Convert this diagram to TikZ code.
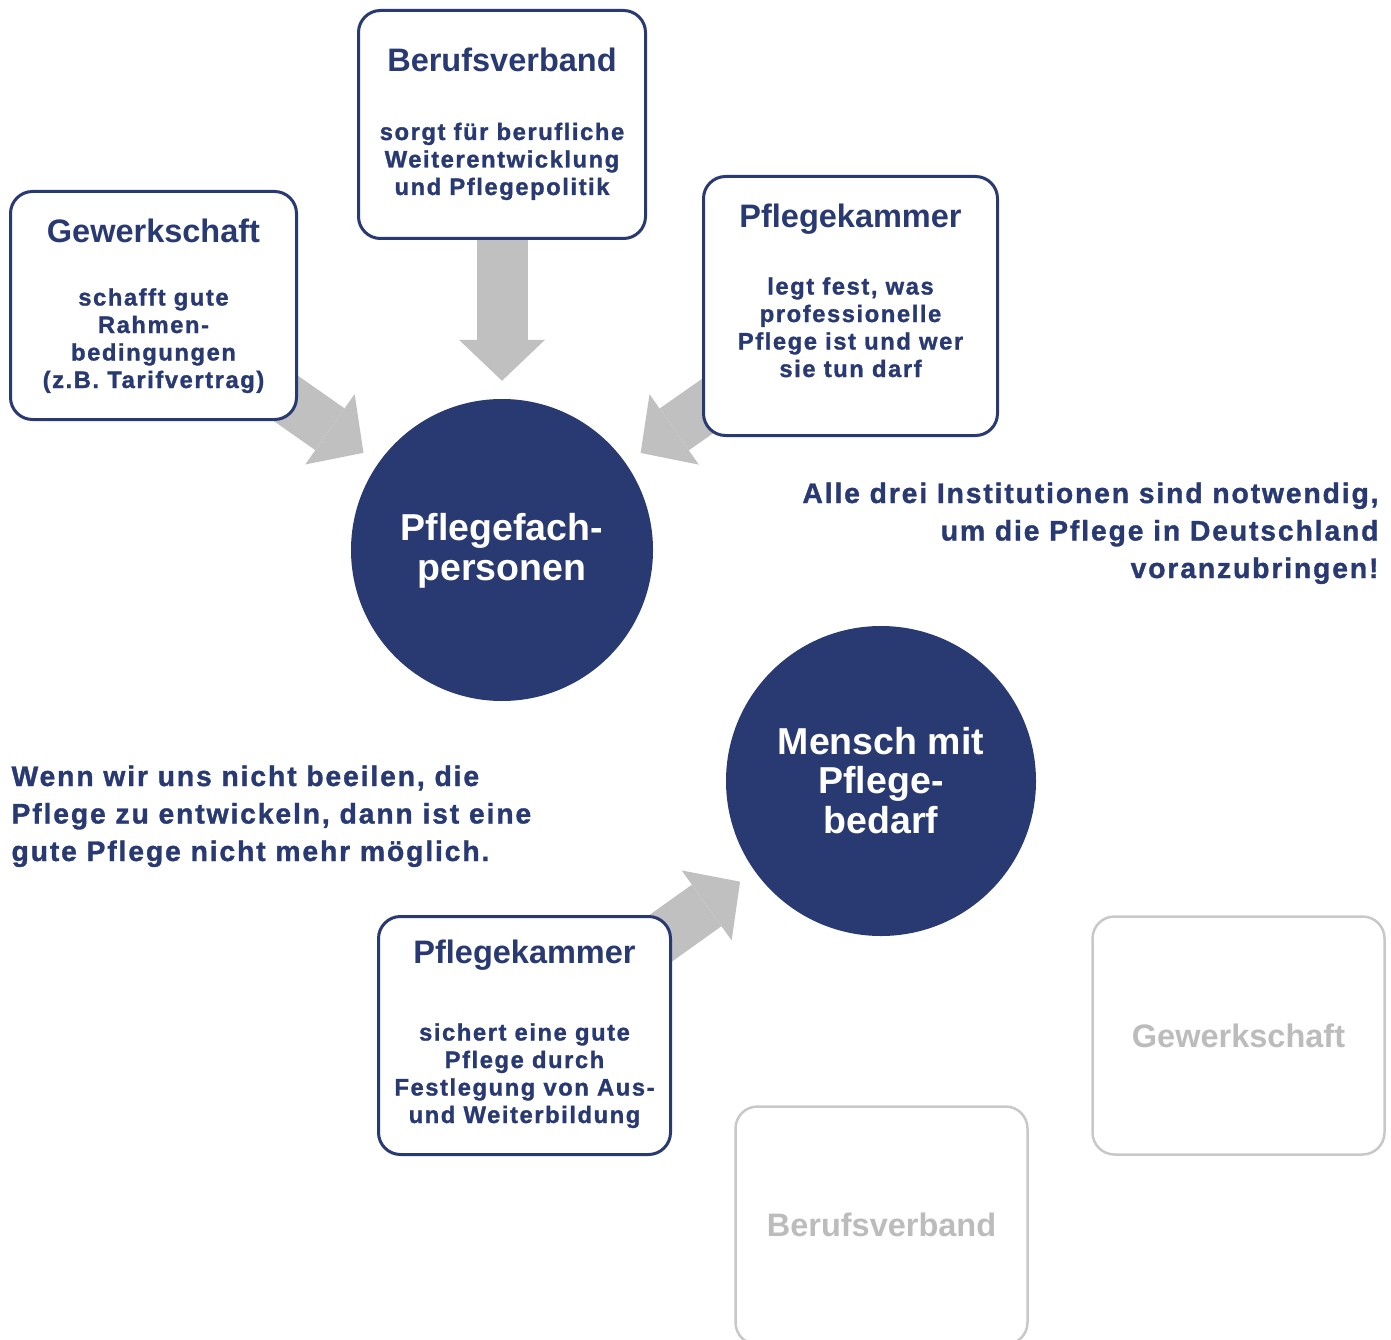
\documentclass[tikz,border=0pt]{standalone}
\usepackage{fontspec}
\setmainfont{Liberation Sans}
\newfontfamily\bodyfont{Liberation Sans}[LetterSpace=6.5,FakeBold=1.2]
\newfontfamily\sidefont{Liberation Sans}[LetterSpace=6.6,FakeBold=1.2]
\usetikzlibrary{arrows.meta,backgrounds}
\definecolor{navy}{RGB}{41,57,114}
\definecolor{arrowgray}{RGB}{192,192,192}
\definecolor{palegray}{RGB}{200,200,200}
\definecolor{paletext}{RGB}{188,188,188}
\tikzset{
  box/.style={draw=navy,line width=3pt,rounded corners=22pt,fill=white,inner sep=0pt,
    minimum width=#1,minimum height=238pt},
  greybox/.style={box=#1,draw=palegray,line width=2.5pt},
  person/.style={circle,fill=navy,inner sep=0pt,minimum size=#1},
  title/.style={anchor=base,text=navy,font=\bfseries\fontsize{32.5}{36}\selectfont},
  greytitle/.style={title,text=paletext},
  body/.style={anchor=base,align=center,text=navy,font=\bodyfont\bfseries\fontsize{23.8}{27.5}\selectfont},
  persontext/.style={anchor=base,align=center,text=white,font=\bfseries\fontsize{37.5}{39.5}\selectfont},
  side/.style={text=navy,font=\sidefont\bfseries\fontsize{28.3}{37.5}\selectfont},
  blockarrow/.style={arrowgray,line width=51pt,shorten >=18pt,
    -{Triangle[length=41pt,width=86pt,line width=0pt]}}
}
\begin{document}
\begin{tikzpicture}[x=1pt,y=-1pt]
\useasboundingbox (0,0) rectangle (1391,1340);
\node[person=302pt] (pfp) at (502,550) {};
\node[person=310pt] (mensch) at (881,781) {};
\node[box=286pt,minimum height=228pt] (gew) at (153.5,305.5) {};
\node[box=287pt,minimum height=228pt] (bv) at (502,124.5) {};
\node[box=294pt,minimum height=259pt] (pk) at (850.5,306) {};
\node[box=292pt] (pkb) at (524.5,1035.5) {};
\node[greybox=292pt] (gewg) at (1238.5,1035.5) {};
\node[greybox=292pt] (bvg) at (881.5,1225.5) {};
\begin{pgfonlayer}{background}
\draw[blockarrow] (bv.center) -- (pfp);
\draw[blockarrow] (gew.center) -- (pfp);
\draw[blockarrow] (pk.center) -- (pfp);
\draw[blockarrow] (pkb.center) -- (mensch);
\end{pgfonlayer}
\node[title] (gewT) at (153.5,243) {Gewerkschaft};
\node[body] (gewB) at (153.5,388) {schafft gute\\Rahmen-\\bedingungen\\(z.B. Tarifvertrag)};
\node[title] (bvT) at (502,72) {Berufsverband};
\node[body] (bvB) at (502,195) {sorgt für berufliche\\Weiterentwicklung\\und Pflegepolitik};
\node[title] (pkT) at (850.5,228) {Pflegekammer};
\node[body] (pkB) at (850.5,377) {legt fest, was\\professionelle\\Pflege ist und wer\\sie tun darf};
\node[title] (pkbT) at (524.5,963) {Pflegekammer};
\node[body] (pkbB) at (524.5,1123) {sichert eine gute\\Pflege durch\\Festlegung von Aus-\\und Weiterbildung};
\node[greytitle] (gewgT) at (1238.5,1047) {Gewerkschaft};
\node[greytitle] (bvgT) at (881.5,1236) {Berufsverband};
\node[persontext] (pfpT) at (502,580) {Pflegefach-\\personen};
\node[persontext] (menschT) at (881,833) {Mensch mit\\Pflege-\\bedarf};
\node[side,anchor=base east,align=right] (rechts) at (1382,578)
  {Alle drei Institutionen sind notwendig,\\um die Pflege in Deutschland\\voranzubringen!};
\node[side,anchor=base west,align=left] (links) at (8,861)
  {Wenn wir uns nicht beeilen, die\\Pflege zu entwickeln, dann ist eine\\gute Pflege nicht mehr möglich.};
\end{tikzpicture}
\end{document}
